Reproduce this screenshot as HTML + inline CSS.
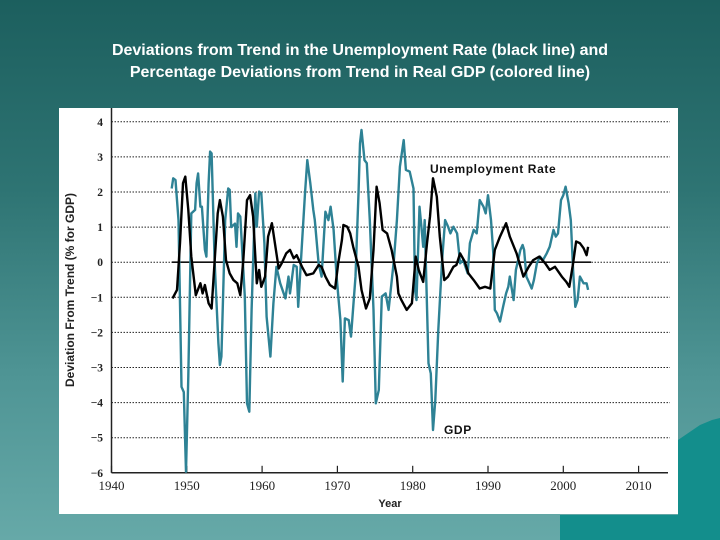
<!DOCTYPE html>
<html><head><meta charset="utf-8"><style>
html,body{margin:0;padding:0;}
body{width:720px;height:540px;overflow:hidden;background:linear-gradient(180deg,#1c5f5e 0%,#2e7473 35%,#4f9595 70%,#66a9a8 100%);position:relative;font-family:"Liberation Sans",sans-serif;}
#title{position:absolute;left:0;top:40px;width:720px;text-align:center;color:#fff;font-weight:bold;font-size:16px;line-height:22px;}
svg{position:absolute;left:0;top:0;}
</style></head><body>
<svg width="720" height="540">
<polygon points="678,440 700,425 712,420 720,418 720,540 560,540 560,515 678,515" fill="#138e8c"/>
</svg>
<div id="title">Deviations from Trend in the Unemployment Rate (black line) and<br>Percentage Deviations from Trend in Real GDP (colored line)</div>
<svg id="chart" width="720" height="540">
<rect x="59" y="108" width="619" height="406" fill="#fff"/>
<g id="grid"></g><g id="axes"></g><g id="series"></g>
<text x="430" y="173" font-family="Liberation Sans,sans-serif" font-weight="bold" font-size="12" letter-spacing="0.6" fill="#111">Unemployment Rate</text>
<text x="444" y="434" font-family="Liberation Sans,sans-serif" font-weight="bold" font-size="12" letter-spacing="0.6" fill="#111">GDP</text>
<text x="390" y="507" text-anchor="middle" font-family="Liberation Sans,sans-serif" font-weight="bold" font-size="11" fill="#222">Year</text>
<text transform="translate(74,290) rotate(-90)" text-anchor="middle" font-family="Liberation Sans,sans-serif" font-weight="bold" font-size="12" fill="#222">Deviation From Trend (% for GDP)</text>
</svg>
<script>
const xTicks=[1940,1950,1960,1970,1980,1990,2000,2010];
const yTicks=[4,3,2,1,0,-1,-2,-3,-4,-5,-6];
const yTickLabels=["4","3","2","1","0","\u22121","\u22122","\u22123","\u22124","\u22125","\u22126"];
const gdpYears=[1948.0,1948.2,1948.5,1948.9,1949.3,1949.6,1949.9,1950.2,1950.6,1951.1,1951.3,1951.5,1951.8,1952.0,1952.4,1952.6,1952.9,1953.1,1953.3,1953.7,1954.2,1954.4,1954.6,1955.1,1955.5,1955.7,1955.9,1956.4,1956.6,1956.8,1957.1,1957.3,1957.7,1958.0,1958.3,1958.6,1959.1,1959.3,1959.6,1959.9,1960.3,1960.6,1961.1,1961.5,1961.9,1962.4,1963.1,1963.5,1963.7,1964.2,1964.6,1964.8,1965.3,1965.7,1966.0,1966.4,1966.8,1967.0,1967.5,1967.9,1968.4,1968.8,1969.1,1969.5,1969.9,1970.4,1970.7,1971.0,1971.5,1971.8,1972.4,1972.8,1973.0,1973.2,1973.6,1973.9,1974.3,1974.8,1975.1,1975.5,1975.7,1975.9,1976.4,1976.8,1977.5,1977.9,1978.3,1978.8,1979.1,1979.6,1980.1,1980.3,1980.5,1980.9,1981.2,1981.4,1981.6,1982.1,1982.4,1982.7,1983.0,1983.4,1983.9,1984.3,1984.7,1985.0,1985.4,1985.9,1986.3,1986.7,1987.3,1987.6,1988.1,1988.5,1988.9,1989.4,1989.7,1990.0,1990.4,1990.7,1990.9,1991.2,1991.6,1992.0,1992.4,1992.7,1992.9,1993.4,1993.7,1994.0,1994.3,1994.6,1994.8,1995.1,1995.5,1995.8,1996.1,1996.5,1996.9,1997.3,1997.8,1998.2,1998.7,1999.0,1999.3,1999.7,2000.0,2000.3,2000.7,2001.0,2001.3,2001.6,2001.9,2002.2,2002.7,2003.1,2003.3];
const gdpValues=[2.1,2.39,2.34,1.2,-3.55,-3.7,-5.97,-3.26,1.39,1.49,2.25,2.53,1.58,1.58,0.35,0.16,2.25,3.15,3.1,-0.03,-2.31,-2.93,-2.69,1.2,2.1,2.06,1.0,1.1,0.44,1.39,1.3,0.54,-0.98,-4.02,-4.26,-1.36,1.96,1.01,2.01,1.96,0.54,-1.55,-2.69,-1.17,-0.13,-0.6,-1.03,-0.41,-0.89,-0.08,-0.13,-1.27,0.54,1.96,2.91,2.25,1.49,1.2,-0.03,-0.41,1.44,1.2,1.58,0.92,-0.41,-1.65,-3.4,-1.6,-1.65,-2.12,-0.41,1.96,3.39,3.77,2.91,2.82,1.2,-1.36,-4.02,-3.64,-2.31,-0.98,-0.89,-1.36,0.06,1.2,2.72,3.48,2.63,2.58,2.1,-0.79,-1.08,1.58,0.92,0.44,1.2,-2.88,-3.17,-4.78,-3.93,-1.93,0.06,1.2,1.01,0.82,1.01,0.82,-0.03,0.06,-0.32,0.54,0.92,0.82,1.77,1.58,1.39,1.91,1.2,0.25,-1.36,-1.46,-1.69,-1.27,-0.89,-0.7,-0.41,-1.08,-0.22,0.06,0.35,0.49,0.35,-0.41,-0.6,-0.75,-0.51,-0.03,0.16,0.06,0.25,0.44,0.92,0.73,0.82,1.77,1.91,2.15,1.68,1.2,-0.22,-1.27,-1.08,-0.41,-0.6,-0.6,-0.79];
const unYears=[1948.1,1948.7,1949.1,1949.5,1949.8,1950.2,1950.6,1951.2,1951.8,1952.1,1952.4,1952.9,1953.3,1953.7,1954.1,1954.4,1954.8,1955.2,1955.7,1956.2,1956.7,1957.1,1957.5,1958.0,1958.4,1958.8,1959.3,1959.6,1959.9,1960.4,1960.8,1961.3,1961.7,1962.2,1962.6,1963.2,1963.7,1964.2,1964.6,1965.3,1965.9,1966.8,1967.5,1967.9,1968.4,1969.0,1969.7,1970.1,1970.6,1970.8,1971.3,1971.7,1972.1,1972.8,1973.2,1973.8,1974.3,1974.8,1975.2,1975.6,1976.0,1976.6,1977.2,1977.9,1978.1,1978.5,1979.2,1979.9,1980.4,1980.8,1981.4,1981.9,1982.3,1982.7,1983.2,1983.6,1984.2,1984.7,1985.4,1985.8,1986.3,1986.9,1987.4,1988.1,1988.9,1989.6,1990.3,1990.9,1991.6,1992.4,1992.9,1993.8,1994.7,1995.4,1996.0,1996.8,1997.6,1998.2,1998.9,1999.8,2000.4,2000.8,2001.3,2001.7,2002.2,2002.7,2003.1,2003.3];
const unValues=[-1.03,-0.79,0.54,2.25,2.44,1.49,0.16,-0.94,-0.6,-0.89,-0.65,-1.17,-1.32,0.06,1.39,1.77,1.3,0.06,-0.32,-0.51,-0.6,-0.94,0.06,1.77,1.91,1.3,-0.6,-0.22,-0.7,-0.41,0.73,1.11,0.54,-0.18,-0.03,0.25,0.35,0.11,0.2,-0.13,-0.37,-0.32,-0.08,-0.13,-0.41,-0.65,-0.75,-0.03,0.63,1.06,1.01,0.82,0.44,-0.13,-0.79,-1.32,-1.03,0.35,2.15,1.68,0.92,0.82,0.35,-0.41,-0.89,-1.08,-1.36,-1.17,0.16,-0.22,-0.56,0.54,1.3,2.39,1.87,0.73,-0.51,-0.41,-0.13,-0.08,0.25,0.02,-0.32,-0.51,-0.75,-0.7,-0.75,0.35,0.73,1.11,0.73,0.25,-0.41,-0.13,0.06,0.16,-0.03,-0.22,-0.13,-0.41,-0.56,-0.7,-0.03,0.59,0.54,0.4,0.2,0.44];

const NS='http://www.w3.org/2000/svg';
const X0=111.5,PXY=7.53,Y0=262.2,PXV=35.1;
function xs(y){return X0+(y-1940)*PXY;}
function ys(v){return Y0-v*PXV;}
function mk(tag,attrs,parent){const e=document.createElementNS(NS,tag);for(const k in attrs)e.setAttribute(k,attrs[k]);parent.appendChild(e);return e;}
const grid=document.getElementById('grid'),axes=document.getElementById('axes'),series=document.getElementById('series');
yTicks.forEach((v,i)=>{
  if(v>-6){
    const l=mk('line',{x1:xs(1940),x2:670,y1:ys(v),y2:ys(v),stroke:'#222','stroke-width':1,'stroke-dasharray':'1.5,1.5'},grid);
    
    
  }
  const t=mk('text',{x:103,y:ys(v)+4,'text-anchor':'end','font-family':'Liberation Serif,serif','font-weight':'bold','font-size':11.5,fill:'#222'},axes);
  t.textContent=yTickLabels[i];
  
  
});
const ya=mk('line',{x1:xs(1940),x2:xs(1940),y1:108,y2:ys(-6),stroke:'#222','stroke-width':1.5},axes);


const xa=mk('line',{x1:xs(1940),x2:668,y1:ys(-6),y2:ys(-6),stroke:'#222','stroke-width':1.5},axes);


xTicks.forEach(yr=>{
  const tk=mk('line',{x1:xs(yr),x2:xs(yr),y1:ys(-6),y2:ys(-6)-7,stroke:'#222','stroke-width':1.2},axes);
  
  
  const t=mk('text',{x:xs(yr),y:ys(-6)+17,'text-anchor':'middle','font-family':'Liberation Serif,serif','font-size':13,fill:'#222'},axes);
  t.textContent=yr;
  
  
});
const zl=mk('line',{x1:xs(1948),x2:xs(2003.7),y1:ys(0),y2:ys(0),stroke:'#111','stroke-width':1.6},series);


function pts(xa,va){return xa.map((x,i)=>xs(x).toFixed(1)+','+ys(va[i]).toFixed(1)).join(' ');}
const g=mk('polyline',{points:pts(gdpYears,gdpValues),fill:'none',stroke:'#2e8295','stroke-width':2.4,'stroke-linejoin':'round'},series);


const u=mk('polyline',{points:pts(unYears,unValues),fill:'none',stroke:'#000','stroke-width':2.4,'stroke-linejoin':'round'},series);


</script>
</body></html>
